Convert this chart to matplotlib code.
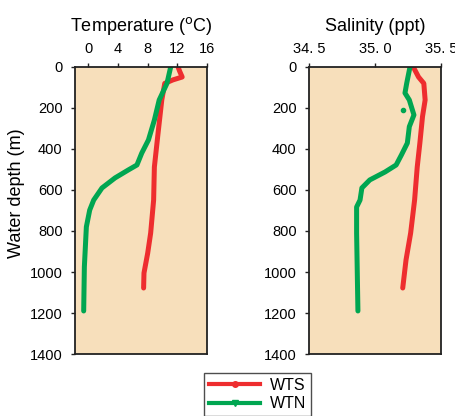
import matplotlib.pyplot as plt
from matplotlib.lines import Line2D

plt.rcParams['font.family'] = ['Liberation Sans', 'DejaVu Sans']

# temperature profiles (depth in m, temperature in degC)
wts_t_depth = [0, 20, 49, 63, 80, 161, 322, 488, 649, 810, 908, 1005, 1078]
wts_temp = [12.1, 12.3, 12.65, 11.4, 10.3, 9.9, 9.4, 8.9, 8.8, 8.4, 8.0, 7.5, 7.45]
wtn_t_depth = [0, 80, 161, 259, 356, 420, 478, 502, 541, 590, 649, 698, 780, 975, 1190]
wtn_temp = [11.1, 10.6, 9.55, 8.9, 8.1, 7.2, 6.55, 5.4, 3.6, 1.84, 0.72, 0.18, -0.27, -0.54, -0.63]

# salinity profiles (depth in m, salinity in ppt)
wts_s_depth = [0, 49, 80, 161, 242, 371, 488, 649, 810, 941, 1078]
wts_sal = [35.29, 35.33, 35.37, 35.38, 35.36, 35.34, 35.32, 35.30, 35.27, 35.235, 35.21]
wtn_s_depth = [0, 80, 127, 161, 234, 291, 371, 429, 478, 512, 551, 590, 649, 683, 810, 1190]
wtn_sal = [35.265, 35.24, 35.227, 35.26, 35.295, 35.26, 35.245, 35.20, 35.16, 35.076, 34.96,
           34.90, 34.886, 34.86, 34.86, 34.87]
wtn_spike = ([35.215], [208])

temp_ticks = [0, 4, 8, 12, 16]
sal_ticks = [34.5, 35.0, 35.5]
sal_labels = ['34. 5', '35. 0', '35. 5']
depth_ticks = [0, 200, 400, 600, 800, 1000, 1200, 1400]

red = '#EE2D2F'
green = '#00A651'
bg = '#F7DFBB'

fig = plt.figure(figsize=(4.56, 4.16), dpi=100)
ax1 = fig.add_axes([0.1645, 0.149, 0.2895, 0.690])
ax2 = fig.add_axes([0.678, 0.149, 0.289, 0.690])

ax1.plot(wts_temp, wts_t_depth, color=red, lw=3.6, solid_capstyle='round', solid_joinstyle='round')
ax1.plot(wtn_temp, wtn_t_depth, color=green, lw=3.6, solid_capstyle='round', solid_joinstyle='round')
ax1.set_xlim(-1.8, 16)
ax1.set_xticks(temp_ticks)
ax1.set_title('Temperature ($^{\\mathrm{o}}$C)', fontsize=13, pad=8)
ax1.set_ylabel('Water depth (m)', fontsize=13)
ax1.yaxis.set_label_coords(-0.38, 0.56)

ax2.plot(wts_sal, wts_s_depth, color=red, lw=3.6, solid_capstyle='round', solid_joinstyle='round')
ax2.plot(wtn_sal, wtn_s_depth, color=green, lw=3.6, solid_capstyle='round', solid_joinstyle='round')
ax2.plot(wtn_spike[0], wtn_spike[1], 'o', color=green, ms=3)
ax2.set_xlim(34.5, 35.5)
ax2.set_xticks(sal_ticks)
ax2.set_xticklabels(sal_labels)
ax2.set_title('Salinity (ppt)', fontsize=13, pad=8)

for ax in (ax1, ax2):
    ax.set_facecolor(bg)
    ax.set_ylim(1400, 0)
    ax.set_yticks(depth_ticks)
    ax.xaxis.tick_top()
    ax.tick_params(axis='y', labelsize=10.5, direction='out', length=3, width=1, color='#222222', pad=6)
    ax.tick_params(axis='x', labelsize=10.5, direction='out', length=3, width=1, color='#222222', pad=5)
    for s in ax.spines.values():
        s.set_linewidth(1.3)
        s.set_color('#222222')

legend_elements = [
    Line2D([0], [0], color=red, lw=3, marker='o', markersize=4, label='WTS'),
    Line2D([0], [0], color=green, lw=3, marker='v', markersize=4, label='WTN'),
]
fig.legend(handles=legend_elements, loc='upper center', bbox_to_anchor=(0.565, 0.122),
           fontsize=11.5, frameon=True, fancybox=False, edgecolor='#222222', handlelength=3.2,
           borderpad=0.3, labelspacing=0.2, handletextpad=0.6)

fig.savefig('out.png', dpi=100)
